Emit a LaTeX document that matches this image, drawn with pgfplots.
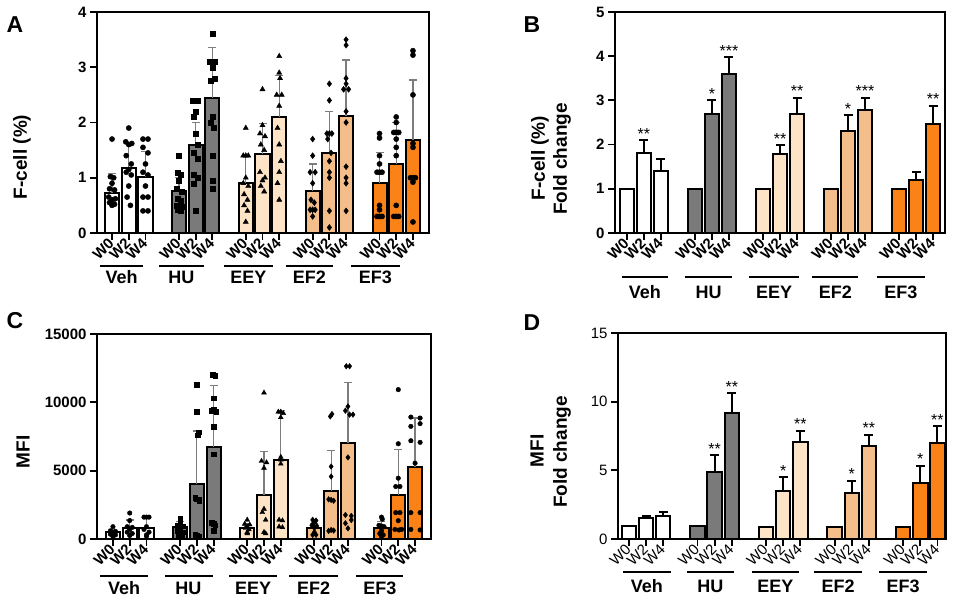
\documentclass[border=0pt]{standalone}
\usepackage{fontspec}
\setmainfont{Liberation Sans}
\usepackage{pgfplots}
\pgfplotsset{compat=1.18}
\usetikzlibrary{plotmarks}

\definecolor{huGray}{RGB}{122,122,122}
\definecolor{eeyPeach}{RGB}{253,228,198}
\definecolor{efTwo}{RGB}{244,190,138}
\definecolor{efThree}{RGB}{250,130,22}
\definecolor{errGray}{RGB}{125,125,125}

\newcommand{\fs}[1]{\fontsize{#1}{#1}\selectfont}
% group underline + name: x1, x2, centre, line shift, label shift, name
\newcommand{\grp}[6]{%
  \draw[line width=2pt] ([yshift=#4]axis cs:#1,0) -- ([yshift=#4]axis cs:#2,0);
  \node[font=\fs{18}\bfseries] at ([yshift=#5]axis cs:#3,0) {#6};}

\tikzset{sigstar/.style={anchor=base, yshift=1pt, font=\fs{16}}}

\pgfplotsset{
  % frame, ticks and tick labels only
  frame/.style={
    scale only axis, anchor=south west,
    ymin=0,
    axis line style={line width=2pt, black},
    xtick={0,1,2,4,5,6,8,9,10,12,13,14,16,17,18},
    xticklabels={W0,W2,W4,W0,W2,W4,W0,W2,W4,W0,W2,W4,W0,W2,W4},
    tick pos=left, tick align=outside,
    major tick length=7pt,
    every tick/.style={line width=1.8pt, black},
    xticklabel style={rotate=45, anchor=east, inner sep=1pt, font=\fs{15}\bfseries},
    yticklabel style={font=\fs{15}\bfseries},
    scaled y ticks=false,
  },
  % data layer on the same scale
  data/.style={scale only axis, anchor=south west, ymin=0, hide axis, clip=false},
  bars/.style={ybar, bar shift=0pt, bar width=0.84, draw=black, line width=2pt, fill=#1},
  sderr/.style={error bars/.cd, y dir=plus, y explicit,
    error bar style={line width=1.2pt, errGray},
    error mark options={rotate=90, mark size=4pt, line width=1.2pt, draw=errGray}},
  semerr/.style={error bars/.cd, y dir=plus, y explicit,
    error bar style={line width=2pt, black},
    error mark options={rotate=90, mark size=4.5pt, line width=2pt, draw=black}},
  pts/.style={only marks, mark=#1, black, mark options={fill=black, draw=black, line width=0.4pt}},
}

\begin{document}
\begin{tikzpicture}
\useasboundingbox (0,0) rectangle (953pt,604pt);

% ================= frames first =================
\begin{axis}[frame, at={(97pt,371pt)}, width=332pt, height=221pt,
  xmin=-0.9, xmax=18.96, ymax=4, ytick={0,1,2,3,4}, yticklabels={0,1,2,3,4}]
  \addplot[draw=none] coordinates {(0,0)};
\end{axis}
\begin{axis}[frame, at={(615pt,371pt)}, width=330pt, height=221pt,
  xmin=-0.7, xmax=18.7, ymax=5, ytick={0,1,2,3,4,5}, yticklabels={0,1,2,3,4,5}]
  \addplot[draw=none] coordinates {(0,0)};
\end{axis}
\begin{axis}[frame, at={(97pt,65pt)}, width=334pt, height=205pt,
  xmin=-0.95, xmax=18.95, ymax=15000,
  ytick={0,5000,10000,15000}, yticklabels={0,5000,10000,15000}]
  \addplot[draw=none] coordinates {(0,0)};
\end{axis}
\begin{axis}[frame, at={(618pt,65pt)}, width=328pt, height=206pt,
  xmin=-0.64, xmax=18.5, ymax=15, ytick={0,5,10,15}, yticklabels={0,5,10,15},
  xticklabel style={font=\fs{15}}, yticklabel style={font=\fs{15}}]
  \addplot[draw=none] coordinates {(0,0)};
\end{axis}

% ---------------- A data ----------------
\begin{axis}[data, at={(97pt,371pt)}, width=332pt, height=221pt,
  xmin=-0.9, xmax=18.96, ymax=4]
  \addplot[bars=white, sderr] coordinates {(0,0.72) +- (0,0.35) (1,1.17) +- (0,0.46) (2,1.01) +- (0,0.46)};
  \addplot[bars=huGray, sderr] coordinates {(4,0.76) +- (0,0.24) (5,1.60) +- (0,0.40) (6,2.44) +- (0,0.92)};
  \addplot[bars=eeyPeach, sderr] coordinates {(8,0.90) +- (0,0.49) (9,1.43) +- (0,0.55) (10,2.10) +- (0,0.75)};
  \addplot[bars=efTwo, sderr] coordinates {(12,0.76) +- (0,0.49) (13,1.45) +- (0,0.75) (14,2.11) +- (0,1.02)};
  \addplot[bars=efThree, sderr] coordinates {(16,0.90) +- (0,0.56) (17,1.25) +- (0,0.75) (18,1.68) +- (0,1.09)};
  \addplot[pts=*, mark size=2.6pt] coordinates {
    (0,1.70) (-0.1,1.02) (0.1,1.00) (0,0.90) (-0.15,0.80) (0.15,0.78) (-0.2,0.65) (0.2,0.62) (0,0.60) (-0.15,0.55) (0.15,0.52) (0,0.50)
    (1,1.90) (0.82,1.65) (1.18,1.62) (1,1.60) (0.85,1.40) (1.15,1.25) (1,1.15) (0.85,1.10) (1.15,1.05) (1,0.85) (0.9,0.65) (1.1,0.50)
    (1.85,1.70) (2.15,1.70) (1.85,1.55) (2.15,1.45) (2,1.25) (1.85,1.10) (2.15,1.05) (2,0.85) (1.85,0.65) (2.15,0.65) (1.85,0.40) (2.15,0.40)};
  \addplot[pts=square*, mark size=2.5pt] coordinates {
    (4,1.40) (3.9,1.10) (4.1,1.05) (4,0.95) (3.85,0.80) (4.15,0.75) (3.9,0.62) (4.1,0.58) (3.85,0.50) (4.15,0.48) (3.9,0.42) (4.1,0.40) (4,0.45)
    (4.85,2.40) (5.15,2.40) (5,2.20) (4.9,2.10) (5,1.80) (5.1,1.60) (4.9,1.45) (5.15,1.35) (4.9,1.05) (5.1,1.00) (4.9,0.90) (5,0.40)
    (6,3.60) (5.85,3.10) (6.15,3.10) (6,3.00) (6.15,2.80) (5.9,2.75) (6,2.10) (5.9,2.00) (6.1,1.90) (6,1.40) (6,0.95) (6,0.80)};
  \addplot[pts=triangle*, mark size=3pt] coordinates {
    (8,1.90) (7.85,1.40) (8,1.40) (8.15,1.40) (8,1.00) (7.85,0.90) (8.15,0.85) (7.9,0.70) (8.1,0.60) (7.9,0.50) (8.1,0.40) (8,0.20)
    (9,2.60) (9,1.95) (8.85,1.80) (9.15,1.75) (8.9,1.60) (9.1,1.50) (8.85,1.10) (9.15,1.00) (9,0.95) (8.9,0.85) (9.1,0.75)
    (10,3.20) (10,2.90) (10.05,2.80) (9.85,2.50) (10.15,2.50) (10,2.30) (9.9,1.90) (10,1.60) (10.1,1.30) (10,1.10) (9.9,0.90) (10,0.60)};
  \addplot[pts=diamond*, mark size=3pt] coordinates {
    (12,1.70) (12,1.40) (11.85,1.10) (12.15,1.10) (12,0.90) (11.9,0.60) (12.1,0.55) (11.85,0.42) (12,0.42) (12.15,0.42) (12,0.30)
    (13,2.70) (13,2.40) (12.85,1.80) (13,1.80) (13.15,1.80) (12.9,1.70) (13.1,1.45) (13,1.30) (13,1.10) (13,1.00) (13,0.40) (13,0.10)
    (14,3.50) (14,3.40) (14,2.80) (14,2.70) (13.85,2.60) (14.15,2.60) (14,2.20) (14,2.00) (14,1.20) (14,1.00) (14,0.90) (14,0.40)};
  \addplot[pts=*, mark size=2.6pt] coordinates {
    (16,1.80) (16,1.72) (16,1.40) (16,1.25) (15.85,1.10) (16,1.10) (16.15,1.10) (16,0.50) (16,0.42) (15.85,0.30) (16,0.30) (16.15,0.30)
    (17,2.10) (17,2.00) (16.85,1.82) (16.95,1.82) (17.05,1.82) (17.15,1.82) (17,1.70) (17,1.55) (17,1.40) (17,0.50) (16.85,0.30) (17,0.30) (17.15,0.30)
    (18,3.30) (18,3.22) (18,2.50) (18,1.62) (18,1.55) (17.85,1.00) (18,1.00) (18.15,1.00) (18,0.92) (18,0.20)};
  \grp{-0.72}{1.86}{0.57}{-33pt}{-44pt}{Veh}
  \grp{2.8}{5.5}{4.15}{-33pt}{-44pt}{HU}
  \grp{6.7}{9.6}{8.15}{-33pt}{-44pt}{EEY}
  \grp{10.4}{13.2}{11.8}{-33pt}{-44pt}{EF2}
  \grp{14.3}{17.2}{15.75}{-33pt}{-44pt}{EF3}
\end{axis}

% ---------------- B data ----------------
\begin{axis}[data, at={(615pt,371pt)}, width=330pt, height=221pt,
  xmin=-0.7, xmax=18.7, ymax=5]
  \addplot[bars=white, semerr] coordinates {(0,1) +- (0,0) (1,1.80) +- (0,0.30) (2,1.40) +- (0,0.27)};
  \addplot[bars=huGray, semerr] coordinates {(4,1) +- (0,0) (5,2.70) +- (0,0.30) (6,3.60) +- (0,0.38)};
  \addplot[bars=eeyPeach, semerr] coordinates {(8,1) +- (0,0) (9,1.78) +- (0,0.20) (10,2.69) +- (0,0.37)};
  \addplot[bars=efTwo, semerr] coordinates {(12,1) +- (0,0) (13,2.31) +- (0,0.35) (14,2.79) +- (0,0.27)};
  \addplot[bars=efThree, semerr] coordinates {(16,1) +- (0,0) (17,1.20) +- (0,0.17) (18,2.46) +- (0,0.42)};
  \node[sigstar] at (axis cs:1,2.10) {**};
  \node[sigstar] at (axis cs:5,3.00) {*};
  \node[sigstar] at (axis cs:6,3.98) {***};
  \node[sigstar] at (axis cs:9,1.98) {**};
  \node[sigstar] at (axis cs:10,3.06) {**};
  \node[sigstar] at (axis cs:13,2.66) {*};
  \node[sigstar] at (axis cs:14,3.06) {***};
  \node[sigstar] at (axis cs:18,2.88) {**};
  \grp{-0.3}{2.4}{1.05}{-44pt}{-59pt}{Veh}
  \grp{3.4}{6.2}{4.8}{-44pt}{-59pt}{HU}
  \grp{7.2}{10.1}{8.65}{-44pt}{-59pt}{EEY}
  \grp{10.9}{13.6}{12.25}{-44pt}{-59pt}{EF2}
  \grp{14.7}{17.5}{16.1}{-44pt}{-59pt}{EF3}
\end{axis}

% ---------------- C data ----------------
\begin{axis}[data, at={(97pt,65pt)}, width=334pt, height=205pt,
  xmin=-0.95, xmax=18.95, ymax=15000]
  \addplot[bars=white, sderr] coordinates {(0,490) +- (0,200) (1,780) +- (0,610) (2,800) +- (0,700)};
  \addplot[bars=huGray, sderr] coordinates {(4,900) +- (0,400) (5,4000) +- (0,3900) (6,6750) +- (0,4500)};
  \addplot[bars=eeyPeach, sderr] coordinates {(8,800) +- (0,300) (9,3250) +- (0,3150) (10,5800) +- (0,3600)};
  \addplot[bars=efTwo, sderr] coordinates {(12,800) +- (0,350) (13,3500) +- (0,3000) (14,7000) +- (0,4450)};
  \addplot[bars=efThree, sderr] coordinates {(16,830) +- (0,450) (17,3250) +- (0,3300) (18,5300) +- (0,3550)};
  \addplot[pts=*, mark size=2.3pt] coordinates {
    (0,900) (-0.15,600) (0.15,550) (0,450) (-0.15,350) (0.15,300) (0,250) (0,200)
    (1,1900) (1,1350) (0.85,900) (1.15,850) (1,700) (0.85,500) (1.15,400) (1,250)
    (1.85,1600) (2,1600) (2.15,1600) (2,900) (1.85,700) (2.15,500) (2,300) (2,200)};
  \addplot[pts=square*, mark size=2.3pt] coordinates {
    (4,1500) (4,1300) (3.85,1000) (4.15,950) (4,800) (3.85,600) (4.15,500) (4,400) (3.9,300) (4.1,200)
    (5,11300) (5,9300) (5.1,7800) (5.05,7600) (4.9,3000) (5,2900) (5.1,2900) (5.15,2800) (4.9,300) (5,250) (5.1,200) (5,150)
    (5.95,12000) (6.1,11950) (6,10300) (5.85,9400) (6,9450) (6.15,9300) (6,8200) (6,6200) (5.9,1200) (6,1100) (6.1,1000) (6,600)};
  \addplot[pts=triangle*, mark size=2.8pt] coordinates {
    (8,1400) (7.85,1100) (8.15,1050) (8,900) (7.9,800) (8.1,700) (8,500) (8,400)
    (9,10700) (8.85,5700) (9.15,5600) (9,5200) (9,2200) (8.9,1950) (9.1,1400) (9,500) (9.1,400)
    (9.85,9300) (10,9300) (10.15,9200) (10,8900) (10,6000) (10,5800) (10,5500) (9.9,1400) (10.1,1350) (9.9,900) (10.1,850)};
  \addplot[pts=diamond*, mark size=2.8pt] coordinates {
    (11.9,1400) (12.1,1350) (12,1200) (11.85,1000) (12.15,950) (12,800) (12,500) (11.9,300) (12.1,300)
    (12.95,8970) (13.05,9140) (13,5300) (13,4570) (13,2860) (12.85,2900) (13.15,2800) (12.85,590) (13,660) (13.15,620)
    (13.9,12640) (14.1,12640) (13.85,9390) (14,9700) (14.1,9100) (14.3,9100) (14,5970) (13.85,1760) (14.2,1690) (13.85,1150) (14,780) (14.2,1390)};
  \addplot[pts=*, mark size=2.3pt] coordinates {
    (16,1600) (16.05,1450) (15.85,1000) (16,950) (16.15,900) (16,600) (15.9,400) (16.1,300) (16,200)
    (17,10930) (17,6970) (17,4450) (16.85,3840) (17.1,3840) (16.85,1930) (17.1,1930) (17,1340) (16.8,700) (17.05,660) (17.2,700)
    (17.75,8920) (18.3,8850) (18.3,8440) (17.75,8240) (17.75,7190) (18.3,7070) (18,5550) (17.75,1930) (18.3,1930) (17.75,700) (18.3,660)};
  \grp{-0.77}{2.1}{0.67}{-37pt}{-49pt}{Veh}
  \grp{3.1}{5.95}{4.5}{-37pt}{-49pt}{HU}
  \grp{6.9}{9.8}{8.35}{-37pt}{-49pt}{EEY}
  \grp{10.5}{13.4}{11.95}{-37pt}{-49pt}{EF2}
  \grp{14.5}{17.3}{15.9}{-37pt}{-49pt}{EF3}
\end{axis}

% ---------------- D data ----------------
\begin{axis}[data, at={(618pt,65pt)}, width=328pt, height=206pt,
  xmin=-0.64, xmax=18.5, ymax=15]
  \addplot[bars=white, semerr] coordinates {(0,0.95) +- (0,0) (1,1.50) +- (0,0.20) (2,1.68) +- (0,0.32)};
  \addplot[bars=huGray, semerr] coordinates {(4,0.95) +- (0,0) (5,4.90) +- (0,1.18) (6,9.17) +- (0,1.46)};
  \addplot[bars=eeyPeach, semerr] coordinates {(8,0.90) +- (0,0) (9,3.50) +- (0,1.00) (10,7.06) +- (0,0.82)};
  \addplot[bars=efTwo, semerr] coordinates {(12,0.90) +- (0,0) (13,3.38) +- (0,0.85) (14,6.74) +- (0,0.86)};
  \addplot[bars=efThree, semerr] coordinates {(16,0.90) +- (0,0) (17,4.10) +- (0,1.25) (18,6.98) +- (0,1.22)};
  \node[sigstar] at (axis cs:5,6.08) {**};
  \node[sigstar] at (axis cs:6,10.63) {**};
  \node[sigstar] at (axis cs:9,4.50) {*};
  \node[sigstar] at (axis cs:10,7.88) {**};
  \node[sigstar] at (axis cs:13,4.23) {*};
  \node[sigstar] at (axis cs:14,7.60) {**};
  \node[sigstar] at (axis cs:17,5.35) {*};
  \node[sigstar] at (axis cs:18,8.20) {**};
  \grp{-0.35}{2.45}{1.05}{-33pt}{-47pt}{Veh}
  \grp{3.4}{6.1}{4.75}{-33pt}{-47pt}{HU}
  \grp{7.2}{9.9}{8.55}{-33pt}{-47pt}{EEY}
  \grp{10.8}{13.6}{12.2}{-33pt}{-47pt}{EF2}
  \grp{14.6}{17.4}{16.0}{-33pt}{-47pt}{EF3}
\end{axis}

% axis titles and panel letters
\node[rotate=90, font=\fs{19}\bfseries] at (22pt,447pt) {F-cell (\%)};
\node[rotate=90, font=\fs{19}\bfseries] at (540pt,446pt) {F-cell (\%)};
\node[rotate=90, font=\fs{19}\bfseries] at (562pt,445pt) {Fold change};
\node[rotate=90, font=\fs{19}\bfseries] at (23pt,152pt) {MFI};
\node[rotate=90, font=\fs{19}\bfseries] at (537pt,153pt) {MFI};
\node[rotate=90, font=\fs{19}\bfseries] at (562pt,152pt) {Fold change};
\node[font=\fs{23}\bfseries] at (15pt,579pt) {A};
\node[font=\fs{23}\bfseries] at (532pt,579pt) {B};
\node[font=\fs{23}\bfseries] at (15pt,283pt) {C};
\node[font=\fs{23}\bfseries] at (532pt,281pt) {D};
\end{tikzpicture}
\end{document}
